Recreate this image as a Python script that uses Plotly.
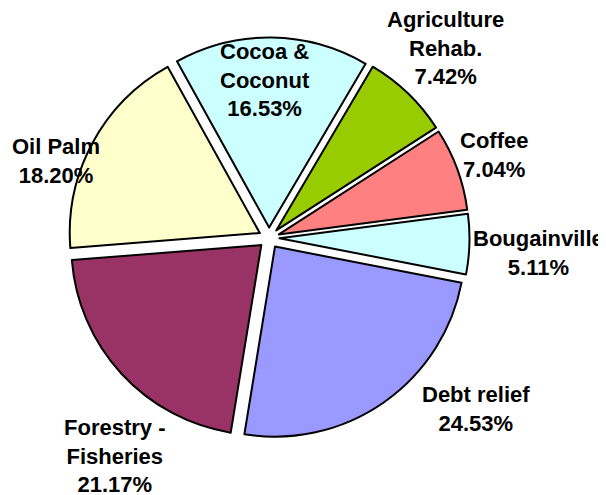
import plotly.graph_objects as go

labels = ["Agriculture Rehab.", "Coffee", "Bougainville", "Debt relief",
          "Forestry - Fisheries", "Oil Palm", "Cocoa & Coconut"]
label_text = ["Agriculture<br>Rehab.", "Coffee", "Bougainville", "Debt relief",
              "Forestry -<br>Fisheries", "Oil Palm", "Cocoa &<br>Coconut"]
values = [7.42, 7.04, 5.11, 24.53, 21.17, 18.20, 16.53]
colors = ["#99CC00", "#FF8080", "#CCFFFF", "#9999FF", "#993366", "#FFFFCC", "#CCFFFF"]

# label block centres in page pixels (x, y from top)
label_pos = [(445, 48), (494, 155), (538, 253), (476, 409), (114, 456), (56, 161), (265, 80)]

OFF = 8            # default body margin of the html page
W, H = 606 - OFF, 495 - OFF
cx, cy = 269 - OFF, 238 - OFF
half = 200.5

fig = go.Figure(go.Pie(
    labels=labels,
    values=values,
    sort=False,
    direction="clockwise",
    rotation=30.5,
    pull=[0.055] * len(values),
    marker=dict(colors=colors, line=dict(color="black", width=2)),
    textinfo="none",
    hoverinfo="label+percent",
    showlegend=False,
    domain=dict(x=[(cx - half) / W, (cx + half) / W],
                y=[1 - (cy + half) / H, 1 - (cy - half) / H]),
))

for t, v, (px, py) in zip(label_text, values, label_pos):
    fig.add_annotation(
        x=(px - OFF) / W, y=1 - (py - OFF) / H, xref="paper", yref="paper",
        text=f"<b>{t}<br>{v:.2f}%</b>", showarrow=False,
        xanchor="center", yanchor="middle", align="center",
        font=dict(family="Liberation Sans, Arial, sans-serif", size=22, color="black"),
    )

fig.update_layout(
    width=W, height=H,
    margin=dict(l=0, r=0, t=0, b=0),
    paper_bgcolor="white", plot_bgcolor="white",
)

fig.write_html("out.html")
